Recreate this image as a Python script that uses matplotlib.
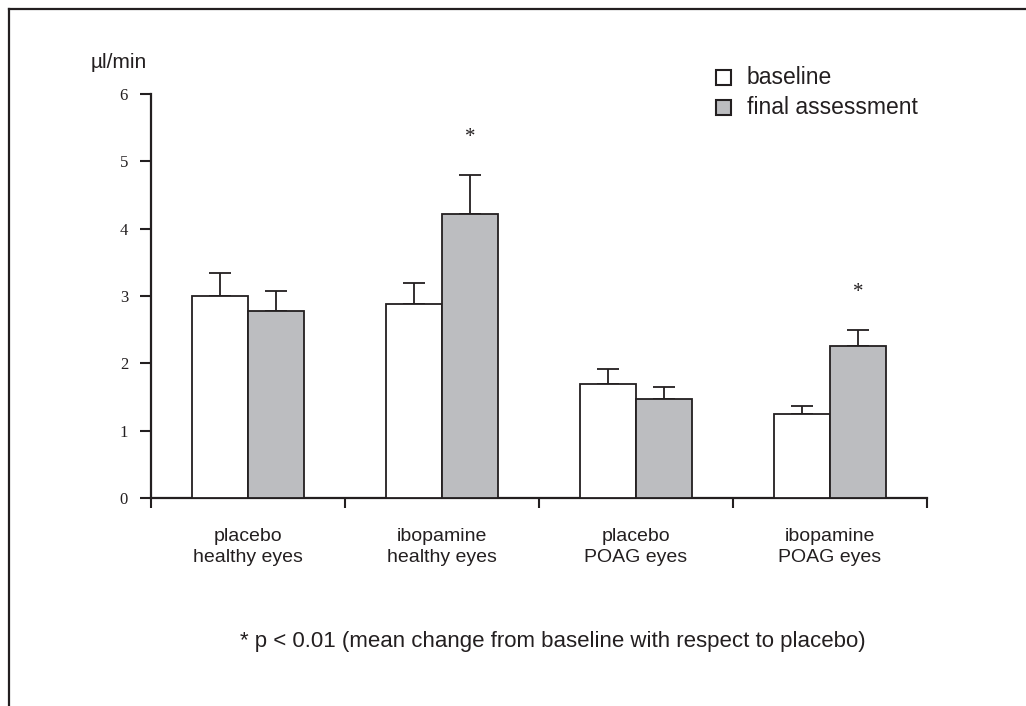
import numpy as np
import matplotlib
matplotlib.use("Agg")
import matplotlib.pyplot as plt
from matplotlib.patches import Rectangle
from matplotlib.lines import Line2D
from matplotlib.transforms import blended_transform_factory

groups = ["placebo\nhealthy eyes", "ibopamine\nhealthy eyes",
          "placebo\nPOAG eyes", "ibopamine\nPOAG eyes"]
baseline = [3.0, 2.88, 1.69, 1.25]
baseline_err = [0.34, 0.31, 0.23, 0.12]
final = [2.77, 4.22, 1.47, 2.26]
final_err = [0.31, 0.58, 0.18, 0.24]
signif = [False, True, False, True]
series = ["baseline", "final assessment"]
yticks = [0, 1, 2, 3, 4, 5, 6]

sans = ["Liberation Sans", "DejaVu Sans"]
serif = ["Liberation Serif", "DejaVu Serif"]
ink = "#231f20"
grey = "#bcbdc0"
colors = ["white", grey]

W, H = 1026, 706
fig = plt.figure(figsize=(W / 100, H / 100), dpi=100)
ax = fig.add_axes([151 / W, 1 - 498 / H, 776 / W, 404 / H])

x = np.arange(len(groups)) + 0.5
w = 0.287
bar_kw = dict(width=w, edgecolor=ink, linewidth=1.3, zorder=3)
ax.bar(x - w / 2, baseline, color=colors[0], **bar_kw)
ax.bar(x + w / 2, final, color=colors[1], **bar_kw)

zeros = [0] * len(groups)
err_kw = dict(fmt="none", ecolor=ink, elinewidth=1.3, capsize=8, capthick=1.3, zorder=2)
ax.errorbar(x - w / 2, baseline, yerr=[zeros, baseline_err], **err_kw)
ax.errorbar(x + w / 2, final, yerr=[zeros, final_err], **err_kw)

for xi, v, e, s in zip(x, final, final_err, signif):
    if s:
        ax.text(xi + w / 2, v + e + 0.55, "*", ha="center", va="center",
                fontsize=15, family=serif, color=ink)

ax.set_xlim(0, 4)
ax.set_ylim(0, 6)
ax.set_yticks(yticks)
ax.set_yticklabels([str(t) for t in yticks], family=serif, fontsize=12, color=ink)
ax.set_xticks([0, 1, 2, 3, 4])
ax.set_xticklabels([])
ax.tick_params(axis="x", direction="out", length=7, width=1.5, color=ink)
ax.tick_params(axis="y", direction="out", length=8, width=1.5, color=ink, pad=8.5)

# group labels under the axis
tr = blended_transform_factory(ax.transData, fig.transFigure)
for xi, g in zip(x, groups):
    ax.text(xi, 1 - 547 / H, g, transform=tr, ha="center", va="center",
            family=sans, fontsize=14, color=ink, linespacing=1.3)

for side in ["top", "right"]:
    ax.spines[side].set_visible(False)
for side in ["left", "bottom"]:
    ax.spines[side].set_linewidth(1.6)
    ax.spines[side].set_color(ink)

fig.text(119 / W, 1 - 63 / H, "µl/min", ha="center", va="center", family=sans,
         fontsize=15, color=ink)

# legend
for i, (lab, c) in enumerate(zip(series, colors)):
    yc = 77 + 30 * i
    fig.add_artist(Rectangle((716 / W, 1 - (yc + 8) / H), 15 / W, 15 / H,
                             transform=fig.transFigure, facecolor=c,
                             edgecolor=ink, linewidth=1.5))
    fig.text(747 / W, 1 - yc / H, lab, ha="left", va="center", family=sans,
             fontsize=16.5, color=ink)

fig.text(553 / W, 1 - 641 / H,
         "* p < 0.01 (mean change from baseline with respect to placebo)",
         ha="center", va="center", family=sans, fontsize=16, color=ink)

# outer frame: top and left edges only
fig.add_artist(Line2D([9 / W, 1], [1 - 9 / H, 1 - 9 / H],
                      transform=fig.transFigure, color=ink, linewidth=1.6))
fig.add_artist(Line2D([9 / W, 9 / W], [0, 1 - 9 / H],
                      transform=fig.transFigure, color=ink, linewidth=1.6))

fig.savefig("out.png", dpi=100)
